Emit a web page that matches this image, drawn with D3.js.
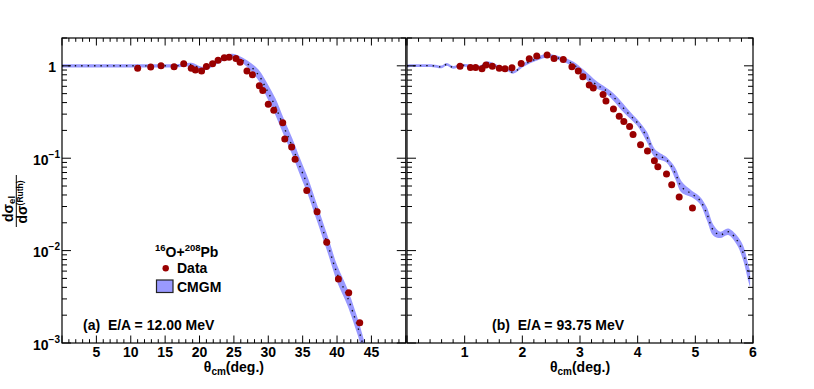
<!DOCTYPE html>
<html lang="en">

<head>
    <meta charset="UTF-8">
    <title>16O+208Pb elastic scattering</title>
    <script src="https://d3js.org/d3.v7.min.js"></script>
    <style>
        body {
            margin: 0;
            background: #fff;
        }

        svg text {
            font-family: "Liberation Sans", Arial, Helvetica, sans-serif;
            font-weight: bold;
            fill: #000;
        }
    </style>
</head>

<body>
    <svg width="814" height="389"></svg>

    <script>
        // (a) E/A = 12.00 MeV
        const dataThetaA = [11.0, 12.9, 14.4, 16.3, 17.7, 18.8, 19.4, 20.3, 21.0, 21.9,
            22.7, 23.6, 24.3, 25.3, 25.9, 26.9, 27.7, 28.7, 29.2, 30.0,
            30.8, 32.1, 32.4, 33.4, 33.9, 35.6, 37.1, 38.5, 40.2, 41.7, 43.3];
        const dataRatioA = [0.94, 0.97, 1.0, 0.975, 1.05, 0.94, 0.90, 0.88, 0.985, 1.05,
            1.15, 1.22, 1.24, 1.20, 1.09, 0.88, 0.80, 0.61, 0.54, 0.383,
            0.33, 0.242, 0.161, 0.132, 0.0973, 0.0446, 0.0263, 0.0123, 0.00494, 0.00349, 0.00166];
        const cmgmThetaA = [0, 5, 10, 15, 17, 18.8, 20.6, 22.55, 24.0, 25.0,
            26.9, 28.6, 29.8, 31.05, 32.25, 33.5, 34.7, 35.8, 37.1, 38.6,
            40.0, 41.5, 43.0, 43.7, 44.5];
        const cmgmMidA = [1, 1, 1, 1, 1.005, 1.03, 0.93, 1.10, 1.25, 1.28,
            1.06, 0.79, 0.546, 0.36, 0.219, 0.133, 0.078, 0.049, 0.0255, 0.0119,
            0.00567, 0.00316, 0.0015, 0.001, 0.0006];
        // half width of the band, in decades
        const cmgmWidthA = [0.018, 0.018, 0.018, 0.018, 0.018, 0.02, 0.02, 0.022, 0.022, 0.022,
            0.035, 0.06, 0.08, 0.09, 0.09, 0.09, 0.09, 0.09, 0.09, 0.09,
            0.09, 0.09, 0.09, 0.09, 0.09];

        // (b) E/A = 93.75 MeV
        const dataThetaB = [0.92, 1.10, 1.19, 1.30, 1.37, 1.48, 1.60, 1.70, 1.82, 1.98,
            2.12, 2.25, 2.43, 2.55, 2.71, 2.86, 2.97, 3.05, 3.16, 3.23,
            3.40, 3.45, 3.58, 3.68, 3.76, 3.86, 3.92, 4.05, 4.17, 4.29,
            4.35, 4.50, 4.59, 4.72, 4.95];
        const dataRatioB = [0.99, 0.96, 0.96, 0.93, 1.02, 0.99, 0.94, 0.93, 0.95, 1.06,
            1.19, 1.28, 1.31, 1.20, 1.17, 0.975, 0.877, 0.76, 0.62, 0.574,
            0.49, 0.415, 0.34, 0.284, 0.25, 0.221, 0.18, 0.14, 0.12, 0.094,
            0.081, 0.0675, 0.0517, 0.0381, 0.029];
        const cmgmThetaB = [0, 0.45, 0.60, 0.69, 0.80, 0.92, 1.15, 1.27, 1.39, 1.56, 1.73, 1.84,
            2.02, 2.19, 2.42, 2.65, 2.88, 3.06, 3.29, 3.40, 3.58, 3.75, 3.92,
            4.0, 4.16, 4.30, 4.50, 4.65, 4.76, 4.94,
            5.08, 5.20, 5.31, 5.43, 5.57, 5.72, 5.83, 5.92, 5.95];
        const cmgmMidB = [1.0, 1.0, 0.975, 1.035, 0.96, 1.01, 0.99, 0.975, 1.08, 0.99, 0.92, 0.85,
            1.02, 1.15, 1.28, 1.2, 1.04, 0.83, 0.62, 0.57, 0.46, 0.35, 0.27,
            0.24, 0.17, 0.113, 0.096, 0.069, 0.049, 0.041,
            0.035, 0.025, 0.0167, 0.0148, 0.016, 0.013, 0.0094, 0.0057, 0.0049];
        const cmgmWidthB = [0.015, 0.015, 0.015, 0.015, 0.015, 0.015, 0.015, 0.015, 0.015, 0.015, 0.015, 0.015,
            0.02, 0.02, 0.02, 0.022, 0.03, 0.04, 0.04, 0.03, 0.04, 0.045, 0.035,
            0.035, 0.055, 0.045, 0.03, 0.06, 0.06, 0.035,
            0.04, 0.07, 0.06, 0.035, 0.035, 0.05, 0.08, 0.09, 0.09];

        const yDecades = [-3, -2, -1, 0];

        const bandColor = "#9999ff";
        const dataColor = "#990000";

        const svg = d3.select("svg");
        const plotTop = 38, plotBottom = 343;

        const y = d3.scaleLog().domain([1e-3, 2]).range([plotBottom, plotTop]);

        const panels = [
            {
                id: "a", x0: 62, x1: 405.8, xmax: 50, minorStep: 1, majorEvery: 5,
                labelFrom: 5, labelTo: 45,
                dTheta: dataThetaA, dRatio: dataRatioA,
                bTheta: cmgmThetaA, bMid: cmgmMidA, bWidth: cmgmWidthA,
                title: "(a)\u00a0\u00a0E/A = 12.00 MeV", titleX: 83
            },
            {
                id: "b", x0: 407, x1: 753, xmax: 6, minorStep: 0.2, majorEvery: 5,
                labelFrom: 1, labelTo: 6,
                dTheta: dataThetaB, dRatio: dataRatioB,
                bTheta: cmgmThetaB, bMid: cmgmMidB, bWidth: cmgmWidthB,
                title: "(b)\u00a0\u00a0E/A = 93.75 MeV", titleX: 492
            }
        ];

        panels.forEach(p => {
            const x = d3.scaleLinear().domain([0, p.xmax]).range([p.x0, p.x1]);

            svg.append("clipPath").attr("id", "clip-" + p.id)
                .append("rect")
                .attr("x", p.x0).attr("y", plotTop)
                .attr("width", p.x1 - p.x0).attr("height", plotBottom - plotTop);

            const g = svg.append("g").attr("clip-path", `url(#clip-${p.id})`);

            // CMGM band
            const band = p.bTheta.map((t, i) => ({
                t: t,
                mid: p.bMid[i],
                lo: p.bMid[i] / Math.pow(10, p.bWidth[i]),
                hi: p.bMid[i] * Math.pow(10, p.bWidth[i])
            }));

            g.append("path")
                .datum(band)
                .attr("fill", bandColor)
                .attr("d", d3.area()
                    .curve(d3.curveCatmullRom.alpha(0.5))
                    .x(d => x(d.t))
                    .y0(d => y(d.lo))
                    .y1(d => y(d.hi)));

            // dotted central line
            g.append("path")
                .datum(band)
                .attr("fill", "none")
                .attr("stroke", "#111")
                .attr("stroke-width", 1.4)
                .attr("stroke-dasharray", "1.4,5")
                .attr("d", d3.line()
                    .curve(d3.curveCatmullRom.alpha(0.5))
                    .x(d => x(d.t))
                    .y(d => y(d.mid)));

            // data points
            g.selectAll("circle.data")
                .data(p.dTheta.map((t, i) => [t, p.dRatio[i]]))
                .join("circle")
                .attr("class", "data")
                .attr("cx", d => x(d[0]))
                .attr("cy", d => y(d[1]))
                .attr("r", 3.5)
                .attr("fill", dataColor);

            // frame
            svg.append("rect")
                .attr("x", p.x0).attr("y", plotTop)
                .attr("width", p.x1 - p.x0).attr("height", plotBottom - plotTop)
                .attr("fill", "none")
                .attr("stroke", "#000")
                .attr("stroke-width", 1.2);

            // x ticks, bottom and top
            const nSteps = Math.round(p.xmax / p.minorStep);
            d3.range(0, nSteps + 1).forEach(i => {
                const v = i * p.minorStep;
                const major = i % p.majorEvery === 0;
                const len = major ? 7.5 : 3.8;
                const px = x(v);
                svg.append("line")
                    .attr("x1", px).attr("x2", px)
                    .attr("y1", plotBottom).attr("y2", plotBottom - len)
                    .attr("stroke", "#000").attr("stroke-width", 1);
                svg.append("line")
                    .attr("x1", px).attr("x2", px)
                    .attr("y1", plotTop).attr("y2", plotTop + len)
                    .attr("stroke", "#000").attr("stroke-width", 1);
                const val = Math.round(v * 100) / 100;
                if (major && val >= p.labelFrom && val <= p.labelTo) {
                    svg.append("text")
                        .attr("x", px)
                        .attr("y", 357)
                        .attr("text-anchor", "middle")
                        .attr("font-size", 14)
                        .text(val);
                }
            });

            // y ticks, left and right
            yDecades.forEach(n => {
                d3.range(1, 10).forEach(k => {
                    const v = k * Math.pow(10, n);
                    if (v > 2.0001) return;
                    const len = k === 1 ? 9 : 5;
                    const py = y(v);
                    svg.append("line")
                        .attr("x1", p.x0).attr("x2", p.x0 + len)
                        .attr("y1", py).attr("y2", py)
                        .attr("stroke", "#000").attr("stroke-width", 1);
                    svg.append("line")
                        .attr("x1", p.x1).attr("x2", p.x1 - len)
                        .attr("y1", py).attr("y2", py)
                        .attr("stroke", "#000").attr("stroke-width", 1);
                });
            });

            // panel label
            svg.append("text")
                .attr("x", p.titleX)
                .attr("y", 329.5)
                .attr("font-size", 14)
                .text(p.title);

            // x axis title
            const xt = svg.append("text")
                .attr("x", (p.x0 + p.x1) / 2)
                .attr("y", 372)
                .attr("text-anchor", "middle")
                .attr("font-size", 14);
            xt.append("tspan").text("θ");
            xt.append("tspan").attr("font-size", 10).attr("dy", 3).text("cm");
            xt.append("tspan").attr("dy", -3).text("(deg.)");
        });

        // y tick labels (left of panel a)
        yDecades.forEach(n => {
            const py = y(Math.pow(10, n));
            if (n === 0) {
                svg.append("text")
                    .attr("x", 56).attr("y", py + 6)
                    .attr("text-anchor", "end")
                    .attr("font-size", 14)
                    .text("1");
            } else {
                const t = svg.append("text")
                    .attr("x", 60).attr("y", py + 6.5)
                    .attr("text-anchor", "end")
                    .attr("font-size", 14);
                t.append("tspan").text("10");
                t.append("tspan").attr("font-size", 10).attr("dy", -7).text("\u2212" + (-n));
            }
        });

        // y axis title: dσ_el / dσ^(Ruth)
        const yt = svg.append("g").attr("transform", "translate(16.3,201) rotate(-90)");
        yt.append("line")
            .attr("x1", -26).attr("x2", 26)
            .attr("y1", 0).attr("y2", 0)
            .attr("stroke", "#000").attr("stroke-width", 1);
        const num = yt.append("text")
            .attr("x", -8).attr("y", -3.2)
            .attr("text-anchor", "middle")
            .attr("font-size", 14);
        num.append("tspan").text("dσ");
        num.append("tspan").attr("font-size", 9.5).attr("dy", 1.8).text("el");
        const den = yt.append("text")
            .attr("x", -1).attr("y", 11)
            .attr("text-anchor", "middle")
            .attr("font-size", 14);
        den.append("tspan").text("dσ");
        den.append("tspan").attr("font-size", 8.5).attr("dy", -4.2).text("(Ruth)");

        // legend
        const lg = svg.append("text").attr("x", 155).attr("y", 257).attr("font-size", 14);
        lg.append("tspan").attr("font-size", 9.5).attr("dy", -6).text("16");
        lg.append("tspan").attr("dy", 6).text("O+");
        lg.append("tspan").attr("font-size", 9.5).attr("dy", -6).text("208");
        lg.append("tspan").attr("dy", 6).text("Pb");

        svg.append("circle")
            .attr("cx", 165.7).attr("cy", 268.3).attr("r", 3.2)
            .attr("fill", dataColor);
        svg.append("text").attr("x", 177).attr("y", 272.5).attr("font-size", 14).text("Data");

        svg.append("rect")
            .attr("x", 156.5).attr("y", 280)
            .attr("width", 16.5).attr("height", 12.5)
            .attr("fill", bandColor)
            .attr("stroke", "#222").attr("stroke-width", 1.2);
        svg.append("text").attr("x", 177).attr("y", 291.5).attr("font-size", 14).text("CMGM");
    </script>
</body>

</html>
